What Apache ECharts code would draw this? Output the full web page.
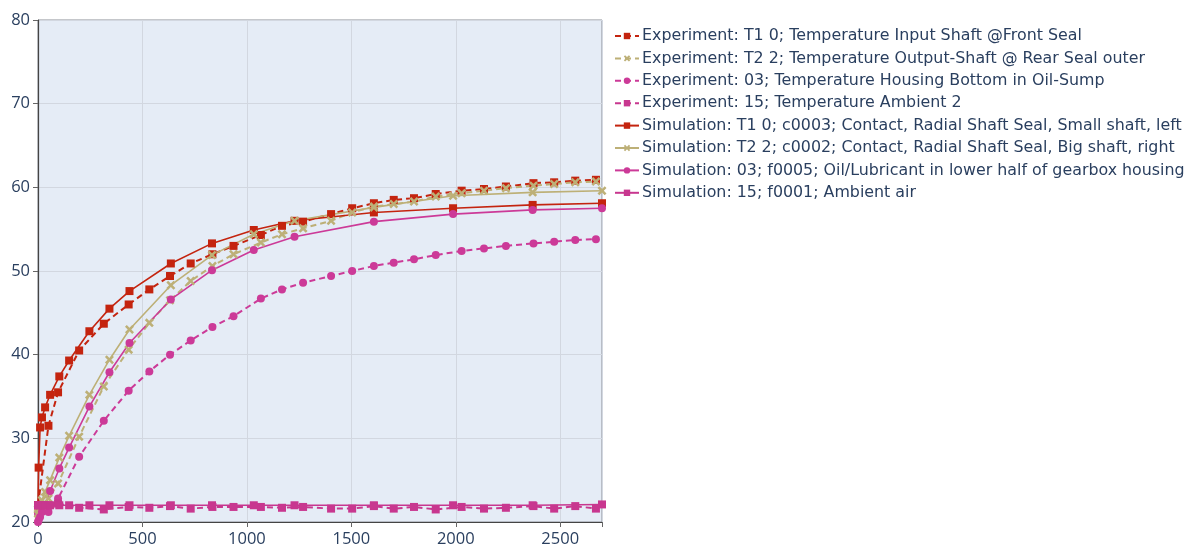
<!DOCTYPE html>
<html>
<head>
<meta charset="utf-8">
<script src="https://cdn.jsdelivr.net/npm/echarts@6/dist/echarts.min.js"></script>
<style>html,body{margin:0;padding:0;background:#fff;}#c{width:1200px;height:548px;}</style>
</head>
<body>
<div id="c"></div>
<script>
// ---- data ----
const expTime = [0, 50, 96, 197, 315, 434, 533, 632, 731, 835, 936, 1067, 1168, 1269, 1403, 1504, 1608, 1703, 1800, 1904, 2028, 2135, 2240, 2372, 2471, 2572, 2671];
const expT1  = [22.0, 31.5, 35.5, 40.5, 43.7, 46.0, 47.8, 49.4, 50.9, 52.0, 53.0, 54.3, 55.4, 55.9, 56.8, 57.5, 58.1, 58.5, 58.7, 59.2, 59.6, 59.8, 60.1, 60.5, 60.6, 60.8, 60.9];
const expT2  = [21.5, 22.8, 24.6, 30.2, 36.2, 40.6, 43.8, 46.5, 48.8, 50.6, 52.0, 53.4, 54.4, 55.1, 56.0, 57.0, 57.7, 58.0, 58.3, 58.9, 59.3, 59.6, 59.9, 60.2, 60.4, 60.6, 60.7];
const exp03  = [21.0, 21.2, 22.8, 27.8, 32.1, 35.7, 38.0, 40.0, 41.7, 43.3, 44.6, 46.7, 47.8, 48.6, 49.4, 50.0, 50.6, 51.0, 51.4, 51.9, 52.4, 52.7, 53.0, 53.3, 53.5, 53.7, 53.8];
const exp15  = [22.0, 22.0, 22.2, 21.7, 21.5, 21.8, 21.7, 21.9, 21.6, 21.8, 21.8, 21.8, 21.7, 21.8, 21.6, 21.6, 21.9, 21.6, 21.8, 21.5, 21.8, 21.6, 21.7, 21.9, 21.6, 21.9, 21.6];

const simTime = [0, 3, 10, 19, 34, 58, 102, 149, 246, 342, 438, 636, 833, 1033, 1228, 1608, 1987, 2368, 2700];
const simT1  = [22.0, 26.5, 31.3, 32.5, 33.7, 35.2, 37.4, 39.3, 42.8, 45.5, 47.6, 50.9, 53.3, 54.9, 56.0, 57.0, 57.5, 57.9, 58.1];
const simT2  = [21.0, 21.5, 22.0, 22.6, 23.6, 25.0, 27.7, 30.3, 35.2, 39.4, 43.0, 48.3, 51.9, 54.4, 56.0, 57.6, 59.0, 59.4, 59.6];
const sim03  = [20.0, 20.2, 20.6, 21.2, 22.0, 23.7, 26.4, 28.9, 33.8, 37.9, 41.4, 46.6, 50.1, 52.5, 54.1, 55.9, 56.8, 57.3, 57.5];
const sim15  = [22.0, 22.0, 22.0, 22.0, 22.0, 22.0, 22.0, 22.0, 22.0, 22.0, 22.0, 22.0, 22.0, 22.0, 22.0, 22.0, 22.0, 22.0, 22.1];

const names = [
  'Experiment: T1 0; Temperature Input Shaft @Front Seal',
  'Experiment: T2 2; Temperature Output-Shaft @ Rear Seal outer',
  'Experiment: 03; Temperature Housing Bottom in Oil-Sump',
  'Experiment: 15; Temperature Ambient 2',
  'Simulation: T1 0; c0003; Contact, Radial Shaft Seal, Small shaft, left',
  'Simulation: T2 2; c0002; Contact, Radial Shaft Seal, Big shaft, right',
  'Simulation: 03; f0005; Oil/Lubricant in lower half of gearbox housing',
  'Simulation: 15; f0001; Ambient air'
];
const yTicks = [20, 30, 40, 50, 60, 70, 80];
const xTicks = [0, 500, 1000, 1500, 2000, 2500];

// ---- styling ----
const cRed = '#c4240f', cTan = '#bdb077', cMag = '#cc3a98', cAmb = '#c8378f';
const xSym = 'path://M2,0 L5,3 L8,0 L10,2 L7,5 L10,8 L8,10 L5,7 L2,10 L0,8 L3,5 L0,2 Z';
const pairs = (t, v) => t.map((x, i) => [x, v[i]]);

function mk(name, t, v, color, symbol, dashed, size) {
  return {
    name, type: 'line', data: pairs(t, v),
    symbol, symbolSize: size, showSymbol: true,
    itemStyle: { color },
    lineStyle: { color, width: dashed ? 2 : 1.6, type: dashed ? [6, 4] : 'solid' },
    emphasis: { disabled: true }, z: 2
  };
}

const series = [
  mk(names[0], expTime, expT1, cRed, 'rect', true, 8),
  mk(names[1], expTime, expT2, cTan, xSym, true, 9),
  mk(names[2], expTime, exp03, cMag, 'circle', true, 8),
  mk(names[3], expTime, exp15, cAmb, 'rect', true, 8),
  mk(names[4], simTime, simT1, cRed, 'rect', false, 8),
  mk(names[5], simTime, simT2, cTan, xSym, false, 9),
  mk(names[6], simTime, sim03, cMag, 'circle', false, 8),
  mk(names[7], simTime, sim15, cAmb, 'rect', false, 8)
];

const chart = echarts.init(document.getElementById('c'), null, { renderer: 'canvas' });
chart.setOption({
  animation: false,
  backgroundColor: '#ffffff',
  textStyle: { fontFamily: 'Open Sans, DejaVu Sans, sans-serif' },
  grid: {
    left: 38, top: 20, right: 598, bottom: 23,
    show: true, backgroundColor: '#e5ecf6', borderColor: '#8a8f96', borderWidth: 1
  },
  legend: {
    orient: 'vertical', left: 609, top: 23,
    itemWidth: 24, itemHeight: 8, itemGap: 6.4,
    textStyle: { fontSize: 15.85, color: '#2a3f5f', fontFamily: 'DejaVu Sans', padding: [0, 0, 0, -2] },
    data: names
  },
  xAxis: {
    type: 'value', min: 0, max: 2700, interval: 500,
    axisLine: { show: true, lineStyle: { color: '#444', width: 1.2 } },
    axisTick: { show: true, length: 5, lineStyle: { color: '#666' } },
    axisLabel: {
      fontSize: 16.5, color: '#2a3f5f', margin: 9,
      formatter: v => (xTicks.includes(v) ? String(v) : '')
    },
    splitLine: { show: true, lineStyle: { color: '#d2d7e0', width: 1 } }
  },
  yAxis: {
    type: 'value', min: yTicks[0], max: yTicks[yTicks.length - 1], interval: 10,
    axisLine: { show: true, lineStyle: { color: '#444', width: 1.2 } },
    axisTick: { show: true, length: 5, lineStyle: { color: '#666' } },
    axisLabel: { fontSize: 16.5, color: '#2a3f5f', margin: 8 },
    splitLine: { show: true, lineStyle: { color: '#d2d7e0', width: 1 } }
  },
  series
});
</script>
</body>
</html>
